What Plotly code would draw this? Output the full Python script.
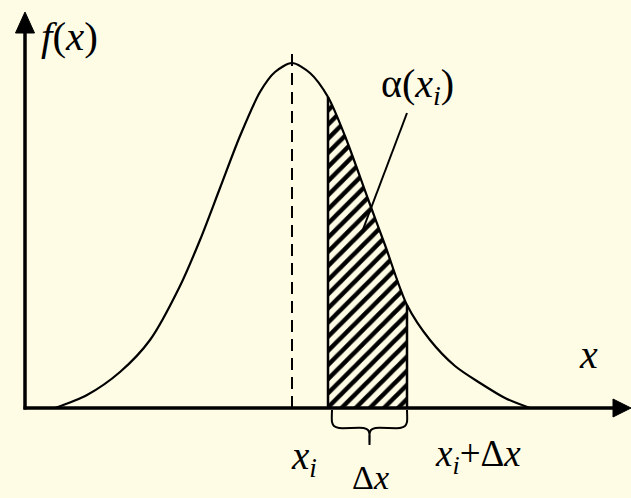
import plotly.graph_objects as go

# ---- data (x in plot units, f = height above axis) ----
curve_x = [55, 87, 120, 150, 180, 200, 220, 240, 260, 275, 292, 310, 328, 345, 368, 385, 407, 430, 455, 480, 505, 530]
curve_f = [0, 13, 36, 68, 122, 168, 220, 272, 316, 336, 345, 335, 311, 272, 209, 163, 103, 68, 42, 25, 10, 0]
mean_x = 292
xi = 328
xi_dx = 407
label_f = "<i>f</i>(<i>x</i>)"
label_alpha = "α(<i>x<sub>i</sub></i>)"
label_x = "<i>x</i>"
label_xi = "<i>x<sub>i</sub></i>"
label_xidx = "<i>x<sub>i</sub></i>+Δ<i>x</i>"
label_dx = "Δ<i>x</i>"

BG = "#FFFCE6"
INK = "black"
FONT = "Liberation Serif"

seg_x = [x for x in curve_x if xi <= x <= xi_dx]
seg_f = [f for x, f in zip(curve_x, curve_f) if xi <= x <= xi_dx]
f_xi = seg_f[0]
f_xidx = seg_f[-1]
peak_f = max(curve_f)

fig = go.Figure()

# hatched strip
fig.add_trace(go.Scatter(
    x=seg_x, y=seg_f, mode="lines", line=dict(width=0, shape="spline", smoothing=0.8),
    fill="tozeroy", fillcolor=BG,
    fillpattern=dict(shape="/", size=10, solidity=0.45, fgcolor=INK, bgcolor=BG, fillmode="replace"),
    hoverinfo="skip", showlegend=False))

# curve
fig.add_trace(go.Scatter(
    x=curve_x, y=curve_f, mode="lines",
    line=dict(color=INK, width=2.2, shape="spline", smoothing=0.8),
    hoverinfo="skip", showlegend=False))

# strip borders
for xv, fv in [(xi, f_xi), (xi_dx, f_xidx)]:
    fig.add_trace(go.Scatter(x=[xv, xv], y=[0, fv], mode="lines",
                             line=dict(color=INK, width=2.5), hoverinfo="skip", showlegend=False))

# dashed mean line
fig.add_trace(go.Scatter(x=[mean_x, mean_x], y=[0, peak_f + 13], mode="lines",
                         line=dict(color=INK, width=2, dash="12px,7px"),
                         hoverinfo="skip", showlegend=False))

# leader line
fig.add_trace(go.Scatter(x=[xi_dx, xi + 34], y=[295, 176], mode="lines",
                         line=dict(color=INK, width=2), hoverinfo="skip", showlegend=False))

# brace
bl, br = xi + 4, xi_dx
bm = (bl + br) / 2
brace_x = [bl, bl, bl + 2, bl + 7, bm - 6, bm - 1.5, bm, bm, bm, bm + 1.5, bm + 6, br - 7, br - 2, br, br]
brace_y = [-2, -14, -18, -20, -20, -22, -26, -37, -26, -22, -20, -20, -18, -14, -2]
fig.add_trace(go.Scatter(x=brace_x, y=brace_y, mode="lines",
                         line=dict(color=INK, width=2, shape="spline", smoothing=0.6),
                         hoverinfo="skip", showlegend=False))

shapes = [
    dict(type="line", x0=25, x1=25, y0=-1.5, y1=380, line=dict(color=INK, width=3.5)),
    dict(type="path", path="M 15.5 375 L 25 396 L 34.5 375 Z", fillcolor=INK, line=dict(color=INK, width=1)),
    dict(type="line", x0=23.5, x1=618, y0=0, y1=0, line=dict(color=INK, width=3.5)),
    dict(type="path", path="M 613 9 L 631 0 L 613 -9 Z", fillcolor=INK, line=dict(color=INK, width=1)),
]

def ann(text, x, y, size):
    return dict(text=text, x=x, y=y, xref="x", yref="y", showarrow=False,
                xanchor="center", yanchor="middle",
                font=dict(family=FONT, size=size, color=INK))

annotations = [
    ann(label_f, 69, 372, 41),
    ann(label_alpha, 417, 322, 40),
    ann(label_x, 588, 54, 40),
    ann(label_xi, 304, -50, 39),
    ann(label_xidx, 478, -48, 37),
    ann(label_dx, 370, -69, 34),
]

fig.update_layout(
    width=631, height=498, margin=dict(l=0, r=0, t=0, b=0),
    paper_bgcolor=BG, plot_bgcolor=BG,
    font=dict(family=FONT, color=INK),
    xaxis=dict(range=[0, 631], visible=False, fixedrange=True),
    yaxis=dict(range=[-90, 408], visible=False, fixedrange=True),
    shapes=shapes, annotations=annotations,
)

fig.write_html("out.html", config={"displayModeBar": False},
               post_script="document.body.style.margin='0';document.body.style.background='%s';" % BG)
